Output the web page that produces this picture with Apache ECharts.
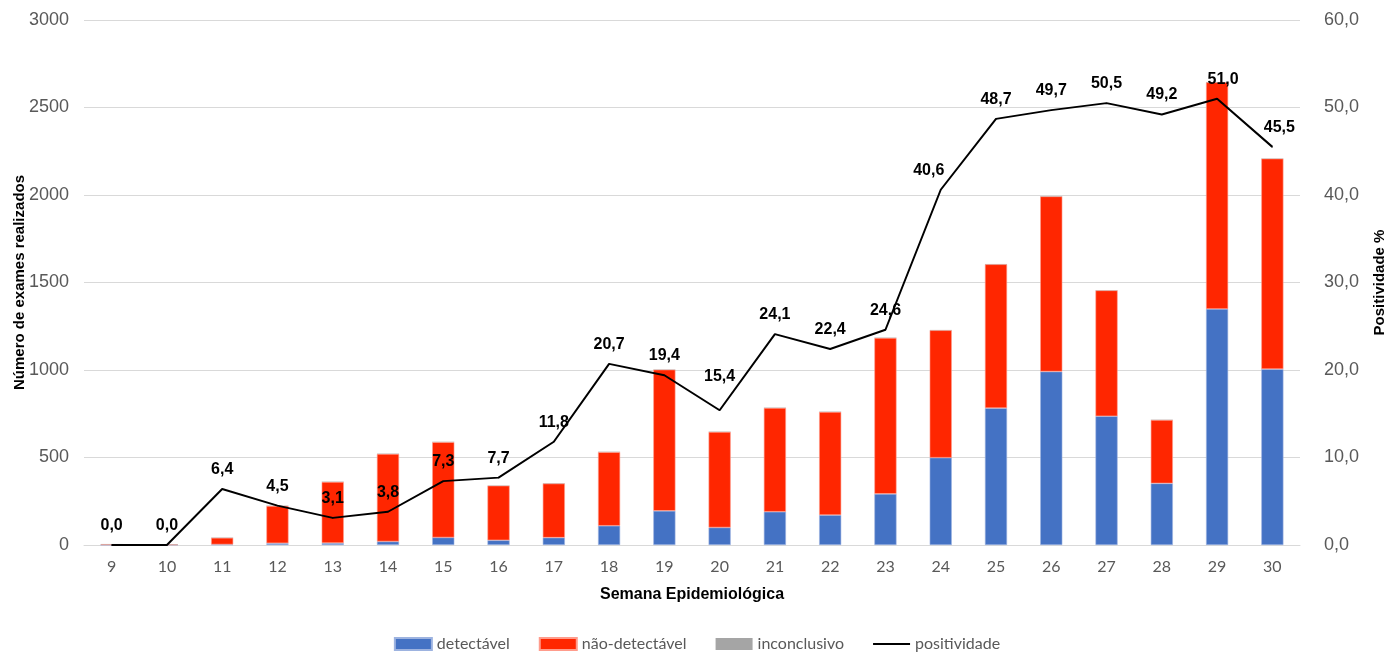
<!DOCTYPE html>
<html>
<head>
<meta charset="utf-8">
<script src="https://cdn.jsdelivr.net/npm/echarts@6/dist/echarts.min.js"></script>
<style>
html,body{margin:0;padding:0;background:#fff;}
#chart{width:1394px;height:653px;}
</style>
</head>
<body>
<div id="chart"></div>
<script>
const semanas = ['9','10','11','12','13','14','15','16','17','18','19','20','21','22','23','24','25','26','27','28','29','30'];
const detectavel = [0,0,3,10,11,20,43,27,42,110,195,100,190,171,292,499,782,991,736,352,1349,1005];
const naoDetectavel = [4,3,38,213,349,500,545,312,309,421,807,546,593,589,891,728,822,1001,719,362,1295,1203];
const inconclusivo = [2,2,2,2,2,2,2,2,2,2,2,2,2,2,2,2,2,2,2,2,2,2];
const positividade = [0.0,0.0,6.4,4.5,3.1,3.8,7.3,7.7,11.8,20.7,19.4,15.4,24.1,22.4,24.6,40.6,48.7,49.7,50.5,49.2,51.0,45.5];
const leftTicks = {min:0, max:3000, interval:500};
const rightTicks = {min:0, max:60, interval:10};

const labelOffsets = {11:[0,-14], 15:[-12,0], 20:[6,0], 21:[7,0]};

const chart = echarts.init(document.getElementById('chart'));
const gray = '#595959';
const lineData = positividade.map((v,i)=>{
  const o = {value:v};
  if (labelOffsets[i]) o.label = {offset: labelOffsets[i]};
  return o;
});
chart.setOption({
  animation:false,
  grid:{left:84, right:94, top:20, bottom:108, containLabel:false, outerBoundsMode:'none'},
  legend:{
    top:631, left:'center',
    itemWidth:37, itemHeight:12, itemGap:29,
    textStyle:{fontFamily:'Lato', fontSize:16, color:gray},
    data:[
      {name:'detectável', icon:'rect'},
      {name:'não-detectável', icon:'rect'},
      {name:'inconclusivo', icon:'rect'},
      {name:'positividade', icon:'path://M0,0 H37 V2 H0 Z', itemStyle:{color:'#000'}}
    ]
  },
  xAxis:{
    type:'category', data:semanas,
    name:'Semana Epidemiológica', nameLocation:'middle', nameGap:42, nameMoveOverlap:false,
    nameTextStyle:{fontFamily:'Liberation Sans', fontWeight:'bold', fontSize:16, color:'#000'},
    axisLine:{lineStyle:{color:'#d9d9d9'}},
    axisTick:{show:false},
    axisLabel:{fontFamily:'Lato', fontSize:16, color:gray, margin:14}
  },
  yAxis:[
    {type:'value', min:leftTicks.min, max:leftTicks.max, interval:leftTicks.interval,
     name:'Número de exames realizados', nameLocation:'middle', nameGap:57, nameRotate:90, nameMoveOverlap:false,
     nameTextStyle:{fontFamily:'Liberation Sans', fontWeight:'bold', fontSize:15, color:'#000'},
     axisLabel:{fontFamily:'Liberation Sans', fontSize:18, color:gray, margin:15, formatter:v=>String(v)},
     axisLine:{show:false}, axisTick:{show:false},
     splitLine:{lineStyle:{color:'#d9d9d9', width:1}}},
    {type:'value', min:rightTicks.min, max:rightTicks.max, interval:rightTicks.interval, position:'right',
     name:'Positividade %', nameLocation:'middle', nameGap:72, nameRotate:90, nameMoveOverlap:false,
     nameTextStyle:{fontFamily:'Liberation Sans', fontWeight:'bold', fontSize:15, color:'#000'},
     axisLabel:{fontFamily:'Liberation Sans', fontSize:18, color:gray, margin:24,
       formatter:v=>v.toFixed(1).replace('.',',')},
     axisLine:{show:false}, axisTick:{show:false},
     splitLine:{show:false}}
  ],
  series:[
    {name:'detectável', type:'bar', stack:'t', data:detectavel, barWidth:'40%',
     itemStyle:{color:'#4472C4', borderColor:'#9DB3E0', borderWidth:0.6}},
    {name:'não-detectável', type:'bar', stack:'t', data:naoDetectavel, barWidth:'40%',
     itemStyle:{color:'#FF2600', borderColor:'#FF9C8C', borderWidth:0.6}},
    {name:'inconclusivo', type:'bar', stack:'t', data:inconclusivo, barWidth:'40%',
     itemStyle:{color:'#A5A5A5'}},
    {name:'positividade', type:'line', yAxisIndex:1, data:lineData,
     symbol:'circle', symbolSize:1, showSymbol:true,
     lineStyle:{color:'#000', width:2}, itemStyle:{color:'#000'},
     label:{show:true, position:'top', distance:11, fontFamily:'Liberation Sans', fontWeight:'bold', fontSize:16, color:'#000',
       formatter:p=>Number(p.value).toFixed(1).replace('.',',')},
     z:5}
  ]
});
</script>
</body>
</html>
